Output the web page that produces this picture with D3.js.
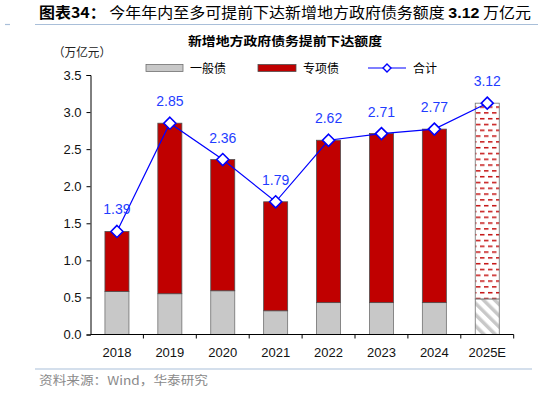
<!doctype html>
<html>
<head>
<meta charset="utf-8">
<script src="https://d3js.org/d3.v7.min.js"></script>
<style>
  body { margin: 0; background: #fff; }
  svg { display: block; font-family: "Liberation Sans", Arial, sans-serif; }
  .cjk { font-family: "Noto Sans CJK SC", sans-serif; }
</style>
</head>
<body>
<svg id="chart" width="538" height="393"></svg>
<script>
// data
var years = ["2018", "2019", "2020", "2021", "2022", "2023", "2024", "2025E"];
var general = [0.58, 0.55, 0.59, 0.32, 0.43, 0.43, 0.43, 0.48];
var special = [0.81, 2.30, 1.77, 1.47, 2.19, 2.28, 2.34, 2.64];
var total = [1.39, 2.85, 2.36, 1.79, 2.62, 2.71, 2.77, 3.12];
var yTicks = [0, 0.5, 1.0, 1.5, 2.0, 2.5, 3.0, 3.5];

var svg = d3.select("#chart");
var blue = "#0000ff", red = "#c00000", grey = "#c8c8c8";

// patterns for the estimate bar
var defs = svg.append("defs");
var dash = defs.append("pattern").attr("id", "dash")
    .attr("patternUnits", "userSpaceOnUse").attr("width", 8).attr("height", 11.6);
dash.append("rect").attr("width", 8).attr("height", 11.6).attr("fill", "#fff");
dash.append("rect").attr("x", 0).attr("y", 2).attr("width", 4.5).attr("height", 1.4).attr("fill", red);
dash.append("rect").attr("x", 4).attr("y", 7.8).attr("width", 4.5).attr("height", 1.4).attr("fill", red);
dash.append("rect").attr("x", -4).attr("y", 7.8).attr("width", 4.5).attr("height", 1.4).attr("fill", red);
var hatch = defs.append("pattern").attr("id", "hatch")
    .attr("patternUnits", "userSpaceOnUse").attr("width", 8).attr("height", 8)
    .attr("patternTransform", "rotate(-45)");
hatch.append("rect").attr("width", 8).attr("height", 8).attr("fill", "#fff");
hatch.append("rect").attr("x", 0).attr("y", 0).attr("width", 3.5).attr("height", 8).attr("fill", grey);

// header
svg.append("text").attr("class", "cjk")
    .attr("x", 39).attr("y", 18)
    .attr("textLength", 492).attr("lengthAdjust", "spacingAndGlyphs")
    .style("font-size", "15px")
    .html('<tspan font-weight="bold">图表34：</tspan> 今年年内至多可提前下达新增地方政府债务额度 <tspan font-weight="bold" font-family="Liberation Sans, Arial">3.12</tspan> 万亿元');
svg.append("line").attr("x1", 35).attr("x2", 538).attr("y1", 24.5).attr("y2", 24.5)
    .attr("stroke", "#a9bfd9").attr("stroke-width", 1.2);
svg.append("line").attr("x1", 5).attr("x2", 10).attr("y1", 24.5).attr("y2", 24.5)
    .attr("stroke", "#a9bfd9").attr("stroke-width", 1.2);

// chart title + unit
svg.append("text").attr("class", "cjk")
    .attr("x", 285).attr("y", 46).attr("text-anchor", "middle")
    .attr("textLength", 194).attr("lengthAdjust", "spacingAndGlyphs")
    .style("font-size", "12.5px").style("font-weight", "bold")
    .text("新增地方政府债务提前下达额度");
svg.append("text").attr("class", "cjk")
    .attr("x", 53).attr("y", 57)
    .attr("textLength", 58).attr("lengthAdjust", "spacingAndGlyphs")
    .style("font-size", "12px").attr("fill", "#222")
    .text("（万亿元）");

// scales
var x = d3.scaleBand().domain(years).range([90.5, 513.7])
    .paddingInner(0.546).paddingOuter(0.273);
var y = d3.scaleLinear().domain([0, 3.5]).range([334.5, 75]);

// bars
var g = svg.append("g");
years.forEach(function (yr, i) {
    var est = yr.indexOf("E") > 0;
    g.append("rect")
        .attr("x", x(yr)).attr("width", x.bandwidth())
        .attr("y", y(general[i])).attr("height", y(0) - y(general[i]))
        .attr("fill", est ? "url(#hatch)" : grey)
        .attr("stroke", "#707070").attr("stroke-width", 0.8);
    g.append("rect")
        .attr("x", x(yr)).attr("width", x.bandwidth())
        .attr("y", y(general[i] + special[i])).attr("height", y(general[i]) - y(general[i] + special[i]))
        .attr("fill", est ? "url(#dash)" : red)
        .attr("stroke", est ? "#707070" : "#505050").attr("stroke-width", 0.8);
});

// axes
var yAxis = svg.append("g").attr("transform", "translate(90.5,0)")
    .call(d3.axisLeft(y).tickValues(yTicks).tickFormat(d3.format(".1f")).tickSizeOuter(0).tickSize(4));
yAxis.select(".domain").attr("stroke", "#000");
yAxis.selectAll("text").style("font-size", "13px").attr("fill", "#111").attr("x", -9);

var xAxis = svg.append("g").attr("transform", "translate(0,334.5)");
xAxis.append("line").attr("x1", 90.5).attr("x2", 513.7).attr("stroke", "#000");
var bounds = years.map(function (yr) { return x(yr) - x.step() * x.paddingInner() / 2 + x.step(); });
xAxis.selectAll("line.tk").data(bounds).enter().append("line")
    .attr("class", "tk").attr("x1", d => d).attr("x2", d => d).attr("y1", 0).attr("y2", 4)
    .attr("stroke", "#000");
xAxis.selectAll("text").data(years).enter().append("text")
    .attr("x", d => x(d) + x.bandwidth() / 2).attr("y", 22)
    .attr("text-anchor", "middle").style("font-size", "13px").attr("fill", "#111")
    .text(d => d);

// total line
var line = d3.line()
    .x(function (d, i) { return x(years[i]) + x.bandwidth() / 2; })
    .y(function (d) { return y(d); });
svg.append("path").datum(total).attr("d", line)
    .attr("fill", "none").attr("stroke", blue).attr("stroke-width", 1.2);
svg.selectAll("path.dia").data(total).enter().append("path")
    .attr("class", "dia")
    .attr("d", "M0,-6L6,0L0,6L-6,0Z")
    .attr("transform", (d, i) => "translate(" + (x(years[i]) + x.bandwidth() / 2) + "," + y(d) + ")")
    .attr("fill", "#fff").attr("stroke", blue).attr("stroke-width", 1.6);
svg.selectAll("text.lbl").data(total).enter().append("text")
    .attr("class", "lbl")
    .attr("x", (d, i) => x(years[i]) + x.bandwidth() / 2)
    .attr("y", d => y(d) - 17)
    .attr("text-anchor", "middle").style("font-size", "14px").attr("fill", "#1f3dff")
    .text(d => d.toFixed(2));

// legend
var lg = svg.append("g").attr("class", "cjk").style("font-size", "12px");
lg.append("rect").attr("x", 146).attr("y", 64.5).attr("width", 37).attr("height", 7)
    .attr("fill", grey).attr("stroke", "#707070").attr("stroke-width", 0.8);
lg.append("text").attr("x", 190).attr("y", 72.5).text("一般债");
lg.append("rect").attr("x", 258).attr("y", 64.5).attr("width", 38).attr("height", 7)
    .attr("fill", red).attr("stroke", "#505050").attr("stroke-width", 0.8);
lg.append("text").attr("x", 303).attr("y", 72.5).text("专项债");
lg.append("line").attr("x1", 368).attr("x2", 406).attr("y1", 68).attr("y2", 68)
    .attr("stroke", blue).attr("stroke-width", 1.2);
lg.append("path").attr("d", "M0,-4L4,0L0,4L-4,0Z").attr("transform", "translate(387,68)")
    .attr("fill", "#fff").attr("stroke", blue).attr("stroke-width", 1.4);
lg.append("text").attr("x", 413).attr("y", 72.5).text("合计");

// footer
svg.append("line").attr("x1", 35).attr("x2", 532).attr("y1", 369).attr("y2", 369)
    .attr("stroke", "#a9bfd9").attr("stroke-width", 1.2);
svg.append("text").attr("class", "cjk")
    .attr("x", 39).attr("y", 385)
    .attr("textLength", 169).attr("lengthAdjust", "spacingAndGlyphs")
    .style("font-size", "12px").attr("fill", "#8a8a8a")
    .text("资料来源：Wind，华泰研究");
</script>
</body>
</html>
